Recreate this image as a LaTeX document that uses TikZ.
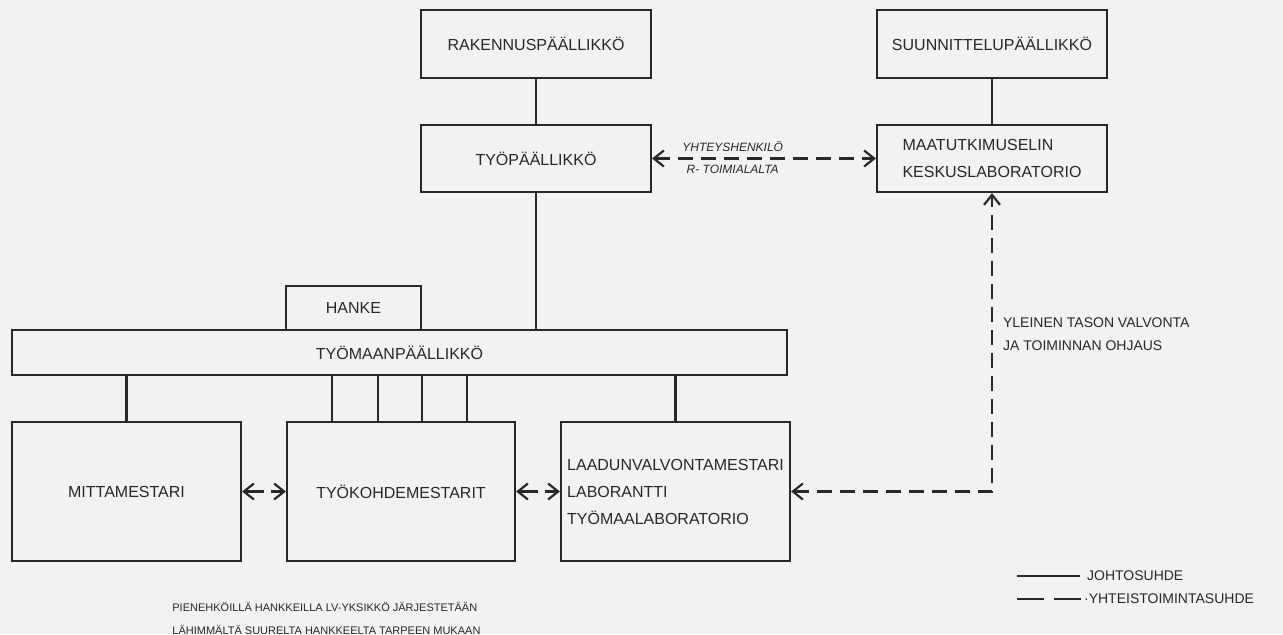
\documentclass[tikz,border=0pt]{standalone}
\usepackage{fontspec}
\setmainfont{Liberation Sans}
\usetikzlibrary{arrows.meta}
\definecolor{paper}{RGB}{242,242,240}
\definecolor{ink}{RGB}{40,40,40}
\begin{document}
\begin{tikzpicture}[x=0.5pt,y=-0.5pt,
  >={Straight Barb[length=5pt,width=8pt]},
  box/.style={draw=ink, line width=1.1pt, inner sep=0pt, text=ink,
    font=\fontsize{8}{13.5}\selectfont, align=center},
  lead/.style={draw=ink, line width=1.1pt},
  coop/.style={draw=ink, line width=1.1pt, dash pattern=on 7.5pt off 4pt},
  pair/.style={draw=ink, line width=1.1pt, dash pattern=on 9.5pt off 3.5pt},
  hand/.style={text=ink, inner sep=1pt, font=\fontsize{6}{7}\selectfont\itshape},
  small/.style={text=ink, inner sep=0pt, font=\fontsize{7}{11.5}\selectfont, align=left},
]
\fill[paper] (0,0) rectangle (1283,634);
\useasboundingbox (0,0) rectangle (1283,634);

% top boxes
\node[box, minimum width=115pt, minimum height=34pt] (rak) at (536,44) {RAKENNUSPÄÄLLIKKÖ};
\node[box, minimum width=115pt, minimum height=33.5pt] (tyop) at (536,158.5) {TYÖPÄÄLLIKKÖ};
\node[box, minimum width=115pt, minimum height=34pt] (suun) at (992,44) {SUUNNITTELUPÄÄLLIKKÖ};
\node[box, minimum width=115pt, minimum height=33.5pt, align=left] (maat) at (992,158.5) {MAATUTKIMUSELIN\\KESKUSLABORATORIO};

% middle
\node[box, minimum width=67.5pt, minimum height=22pt] (hanke) at (353.5,308) {HANKE};
\node[box, minimum width=387.5pt, minimum height=22.5pt] (tyom) at (399.5,352.5) {TYÖMAANPÄÄLLIKKÖ};

% bottom boxes
\node[box, minimum width=114.5pt, minimum height=69.5pt] (mitta) at (126.5,491.5) {MITTAMESTARI};
\node[box, minimum width=114pt, minimum height=69.5pt] (tyok) at (401,491.5) {TYÖKOHDEMESTARIT};
\node[box, minimum width=114.5pt, minimum height=69.5pt, align=left] (laa) at (675.5,491.5) {LAADUNVALVONTAMESTARI\\LABORANTTI\\TYÖMAALABORATORIO};

% line relations
\draw[lead] (rak) -- (tyop);
\draw[lead] (suun) -- (maat);
\draw[lead] (tyop.south) -- (tyop.south |- tyom.north);
\draw[lead] (mitta.north |- tyom.south) -- (mitta.north);
\foreach \s in {-34.5pt,-11.5pt,10.5pt,33pt}
  \draw[lead] ([xshift=\s]tyok.north |- tyom.south) -- ([xshift=\s]tyok.north);
\draw[lead] (laa.north |- tyom.south) -- (laa.north);

% cooperation relations
\draw[coop,<->] (tyop) -- (maat)
  node[hand, pos=0.36, above=2pt] {YHTEYSHENKILÖ}
  node[hand, pos=0.36, below=2pt] {R- TOIMIALALTA};
\draw[pair,<->] (mitta) -- (tyok);
\draw[pair,<->] (tyok) -- (laa);
\draw[coop,<->] (laa.east) -| (maat.south)
  node[small, pos=0.763, right=5pt] {YLEINEN TASON VALVONTA\\JA TOIMINNAN OHJAUS};

% legend
\coordinate (l1a) at (1017,576);
\coordinate (l1b) at (1080,576);
\coordinate (l2a) at (1017,599);
\coordinate (l2b) at (1081,599);
\draw[lead] (l1a) -- (l1b) node[small, right=3pt] {JOHTOSUHDE};
\draw[draw=ink, line width=1.1pt, dash pattern=on 13.5pt off 5pt] (l2a) -- (l2b)
  node[small, right=1pt] {·YHTEISTOIMINTASUHDE};

% note
\node[small, anchor=west, font=\fontsize{5.5}{11.5}\selectfont] (note) at (172,618)
  {PIENEHKÖILLÄ HANKKEILLA LV-YKSIKKÖ JÄRJESTETÄÄN\\LÄHIMMÄLTÄ SUURELTA HANKKEELTA TARPEEN MUKAAN};
\end{tikzpicture}
\end{document}
